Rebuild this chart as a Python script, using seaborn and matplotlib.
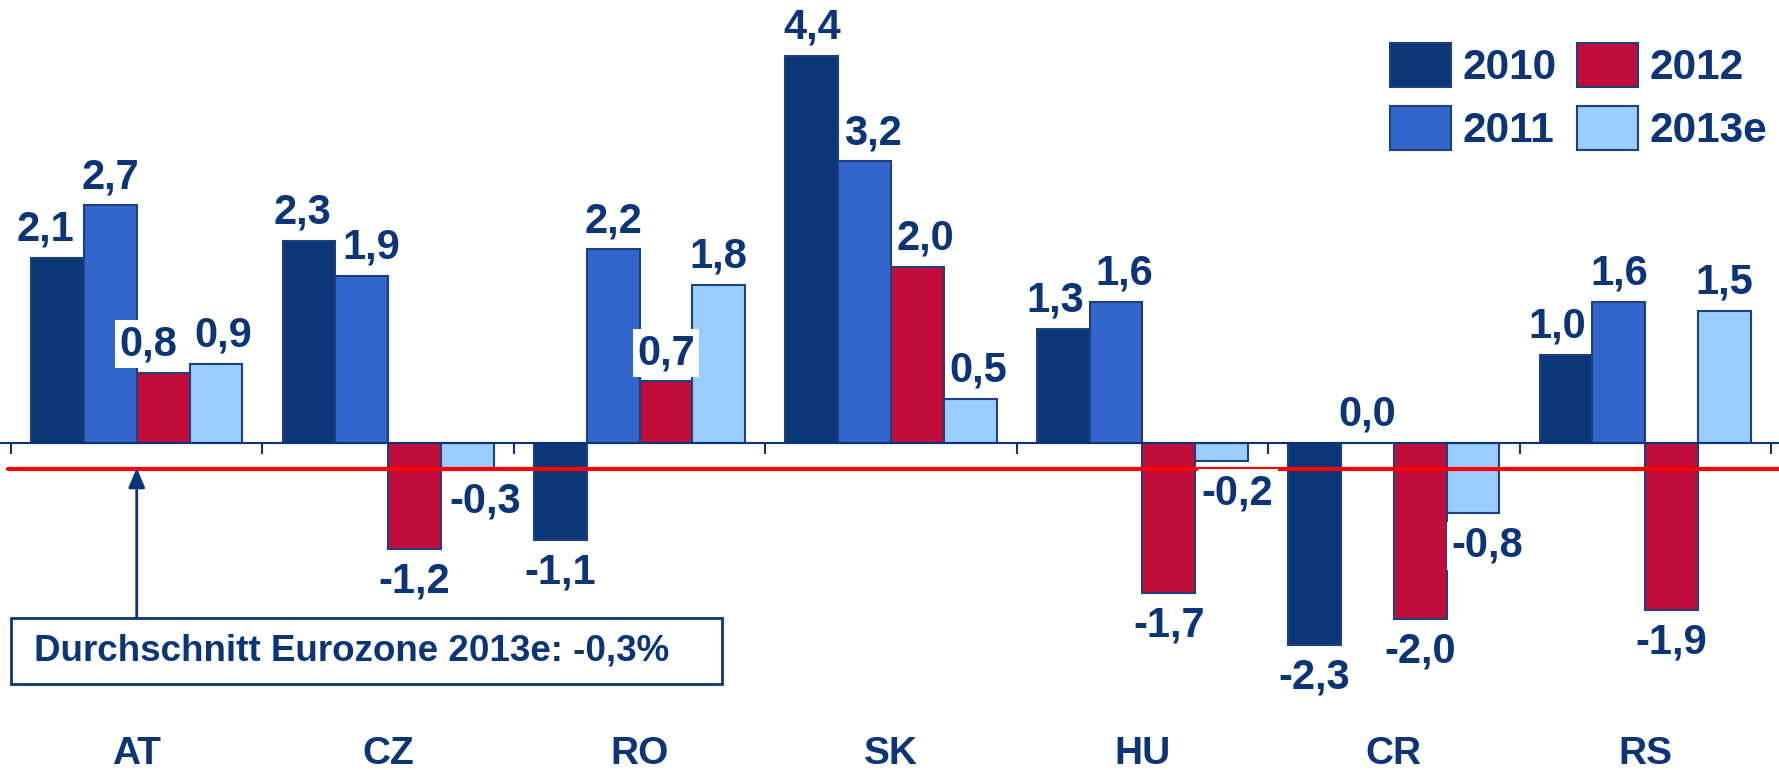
import numpy as np
import pandas as pd
import matplotlib
matplotlib.use("Agg")
import matplotlib.pyplot as plt
from matplotlib.patches import Patch, Rectangle
import seaborn as sns

# ---------------- data ----------------
countries = ["AT", "CZ", "RO", "SK", "HU", "CR", "RS"]
years = ["2010", "2011", "2012", "2013e"]
v2010 = [2.1, 2.3, -1.1, 4.4, 1.3, -2.3, 1.0]
v2011 = [2.7, 1.9, 2.2, 3.2, 1.6, 0.0, 1.6]
v2012 = [0.8, -1.2, 0.7, 2.0, -1.7, -2.0, -1.9]
v2013e = [0.9, -0.3, 1.8, 0.5, -0.2, -0.8, 1.5]
eurozone_avg = -0.3
eurozone_text = "Durchschnitt Eurozone 2013e: -0,3%"

series = {"2010": v2010, "2011": v2011, "2012": v2012, "2013e": v2013e}
df = pd.DataFrame([(c, y, series[y][i]) for y in years for i, c in enumerate(countries)],
                  columns=["country", "year", "value"])

# ---------------- style ----------------
navy = "#0B3577"
colors = {"2010": "#0B3678", "2011": "#3366CC", "2012": "#C20D3B", "2013e": "#99CCFF"}
edge = "#1F3F7F"

sns.set_theme(style="white")
plt.rcParams["font.family"] = ["Liberation Sans", "DejaVu Sans"]
plt.rcParams["font.weight"] = "bold"

fig = plt.figure(figsize=(17.79, 7.70), dpi=100)
ax = fig.add_axes([0, 0, 1, 1])

sns.barplot(data=df, x="country", y="value", hue="year", order=countries,
            hue_order=years, palette=colors, saturation=1, width=0.84, gap=0,
            edgecolor=edge, linewidth=1.5, ax=ax, legend=False, zorder=2)

ax.set_xlim(-0.5438, 6.532)
ax.set_ylim(-3.716, 5.034)

# axis at zero with boundary ticks
for s in ["top", "right", "left"]:
    ax.spines[s].set_visible(False)
ax.spines["bottom"].set_position(("data", 0))
ax.spines["bottom"].set_color(navy)
ax.spines["bottom"].set_linewidth(1.5)
ax.spines["bottom"].set_zorder(3)
ax.set_xticks([])
ax.set_xticks(np.arange(len(countries) + 1) - 0.5, minor=True)
ax.tick_params(axis="x", which="minor", length=8, width=1.5, color=navy,
               direction="out", bottom=True)
ax.set_yticks([])
ax.set_xlabel("")
ax.set_ylabel("")

# category labels
for i, c in enumerate(countries):
    ax.text(i, -3.53, c, ha="center", va="center", fontsize=28,
            fontweight="bold", color=navy)

# value labels (horizontal nudges in points, as placed in the original)
label_dx = {("AT", "2010"): -9, ("AT", "2012"): -11, ("AT", "2013e"): 5,
            ("CZ", "2010"): -5, ("CZ", "2011"): 6.5, ("CZ", "2013e"): 13,
            ("SK", "2011"): 6, ("SK", "2012"): 6, ("SK", "2013e"): 6,
            ("HU", "2010"): -6, ("HU", "2011"): 6, ("HU", "2013e"): 11.5,
            ("CR", "2013e"): 10, ("RS", "2010"): -6}
for yi, cont in enumerate(ax.containers):
    y = years[yi]
    for ci, bar in enumerate(cont):
        val = series[y][ci]
        xc = bar.get_x() + bar.get_width() / 2
        dx = label_dx.get((countries[ci], y), 0)
        txt = f"{val:.1f}".replace(".", ",")
        up = val >= 0
        ax.annotate(txt, (xc, val), xytext=(dx, 6 if up else -9),
                    textcoords="offset points", ha="center",
                    va="bottom" if up else "top", fontsize=30, fontweight="bold",
                    color=navy, zorder=5,
                    bbox=dict(boxstyle="square,pad=0.1", fc="white", ec="none"))

# Eurozone average line
ax.axhline(eurozone_avg, xmin=8 / 1779, xmax=1, color="#FF0000", lw=3, zorder=4)

# annotation box and arrow
box_top = (443 - 618) / 88
ax.add_patch(Rectangle((11 / 1779, 86 / 770), 711 / 1779, 66 / 770,
                       transform=ax.transAxes, fc="white", ec=navy, lw=2, zorder=6))
ax.text(34 / 1779, 119 / 770, eurozone_text, transform=ax.transAxes,
        ha="left", va="center", fontsize=26.5, fontweight="bold", color=navy, zorder=7)
ax.annotate("", xy=(0, eurozone_avg + 0.02), xytext=(0, box_top),
            arrowprops=dict(arrowstyle="-|>,head_length=0.6,head_width=0.25",
                            mutation_scale=20, color=navy, lw=2,
                            shrinkA=0, shrinkB=0), zorder=6)

# legend
handles = [Patch(facecolor=colors[y], edgecolor=edge, linewidth=1.5, label=y) for y in years]
ax.legend(handles=handles, ncol=2, loc="upper left",
          bbox_to_anchor=(1390 / 1779, 1 - 43 / 770), frameon=False,
          prop={"weight": "bold", "size": 30.5},
          handlelength=1.44, handleheight=1.22, labelspacing=0.42,
          handletextpad=0.26, columnspacing=0.5, borderpad=0, borderaxespad=0,
          labelcolor=navy)

fig.savefig("out.png", dpi=100)
